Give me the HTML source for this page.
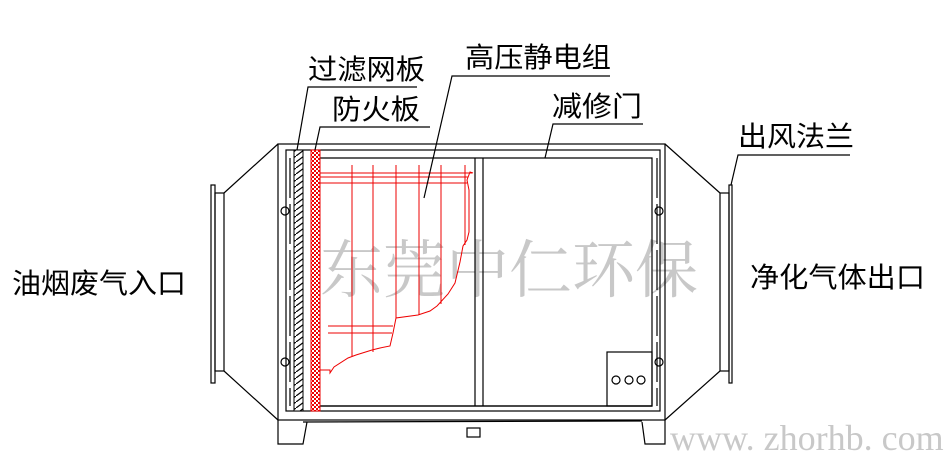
<!DOCTYPE html>
<html><head><meta charset="utf-8"><style>
html,body{margin:0;padding:0;background:#fff;}
svg{display:block;}
text{font-family:"Liberation Sans","Noto Sans CJK SC",sans-serif;}
</style></head><body>
<svg width="951" height="465" viewBox="0 0 951 465" xmlns="http://www.w3.org/2000/svg">
<defs>
<pattern id="hatch" width="8" height="6" patternUnits="userSpaceOnUse">
<rect width="8" height="6" fill="#fff"/>
<path d="M0 6 L8 0" stroke="#000" stroke-width="1.2"/>
</pattern>
<pattern id="check" width="4" height="4" patternUnits="userSpaceOnUse">
<rect width="4" height="4" fill="#fff"/>
<rect width="2" height="2" fill="#e00"/><rect x="2" y="2" width="2" height="2" fill="#e00"/>
</pattern>
</defs>
<!-- watermark -->
<text x="320" y="292" font-size="63" fill="#c8c8c8" style="font-family:'Noto Serif CJK SC','Noto Sans CJK SC',serif">东莞中仁环保</text>
<text x="670" y="450" font-size="36" fill="#c8c8c8" style="font-family:'Liberation Serif',serif">www. zhorhb. com</text>

<g fill="none" stroke="#000" stroke-width="1.2">
<!-- inlet -->
<rect x="211" y="185" width="4" height="198"/>
<rect x="215" y="193" width="9" height="178"/>
<path d="M224 193 L278 144 M224 371 L278 420"/>
<!-- outlet -->
<rect x="720" y="193" width="9" height="178"/>
<rect x="729" y="185" width="3" height="198"/>
<path d="M720 193 L665 144 M720 371 L665 420"/>
<!-- main box -->
<rect x="278" y="144" width="387" height="276"/>
<rect x="286" y="150" width="374" height="261"/>
<path d="M320 158 H652 V406 H320"/>
<path d="M475 158 V406 M483 158 V406"/>
<path d="M320 406 H652" />
<path d="M290 158 V406 M657 158 V406" stroke-dasharray="40 6"/>
<!-- control box -->
<rect x="607" y="352" width="45" height="54"/>
<circle cx="616" cy="380" r="4"/><circle cx="629" cy="380" r="4"/><circle cx="641" cy="380" r="4"/>
<circle cx="285" cy="211" r="4"/><circle cx="285" cy="362" r="4"/>
<circle cx="659" cy="211" r="4"/><circle cx="659" cy="362" r="4"/>
<!-- legs -->
<path d="M278 420 V444 H303 L307 422"/>
<path d="M665 420 V444 H645 L642 422"/>
<path d="M303 422 L642 421"/>
<rect x="467" y="428" width="13" height="9"/>
</g>
<!-- filter & fire plate -->
<rect x="294" y="150" width="9" height="261" fill="url(#hatch)" stroke="#000" stroke-width="1"/>
<rect x="311" y="150" width="9" height="261" fill="url(#check)" stroke="#e00" stroke-width="1"/>
<!-- electrodes -->
<g fill="none" stroke="#e00" stroke-width="1">
<path d="M352 165 V356 M373 165 V352 M396 165 V318 M419 165 V315 M441 165 V304 M465 165 V245"/>
<path d="M320 173 H472 M320 177 H468 M320 183 H467"/>
<path d="M328 326 H393 M328 333 H392"/>
<path d="M320 370 H330 V373 L334 367 L348 358 L356 355 L372 350 L380 348 L390 346 L393 333 L396 318 L418 315 L430 311 L437 306 L448 294 L455 283 L460 262 L463 246 L467 240 L469 232 V190 L467 180 L470 172 L473 173"/>
</g>
<!-- leaders -->
<g fill="none" stroke="#000" stroke-width="1.2">
<path d="M417 87 H308 L297 150"/>
<path d="M430 127 H320 L315 150"/>
<path d="M610 76 H452 L424 198"/>
<path d="M643 124 H553 L545 158"/>
<path d="M850 155 H738 L731 185"/>
</g>
<g font-size="28" fill="#000">
<text x="308" y="79" textLength="117" lengthAdjust="spacingAndGlyphs">过滤网板</text>
<text x="332" y="119" textLength="88" lengthAdjust="spacingAndGlyphs">防火板</text>
<text x="465" y="67" textLength="146" lengthAdjust="spacingAndGlyphs">高压静电组</text>
<text x="552" y="116" textLength="90" lengthAdjust="spacingAndGlyphs">减修门</text>
<text x="738" y="146" textLength="116" lengthAdjust="spacingAndGlyphs">出风法兰</text>
<text x="12" y="293" textLength="174" lengthAdjust="spacingAndGlyphs">油烟废气入口</text>
<text x="750" y="287" textLength="175" lengthAdjust="spacingAndGlyphs">净化气体出口</text>
</g>
</svg>
</body></html>
